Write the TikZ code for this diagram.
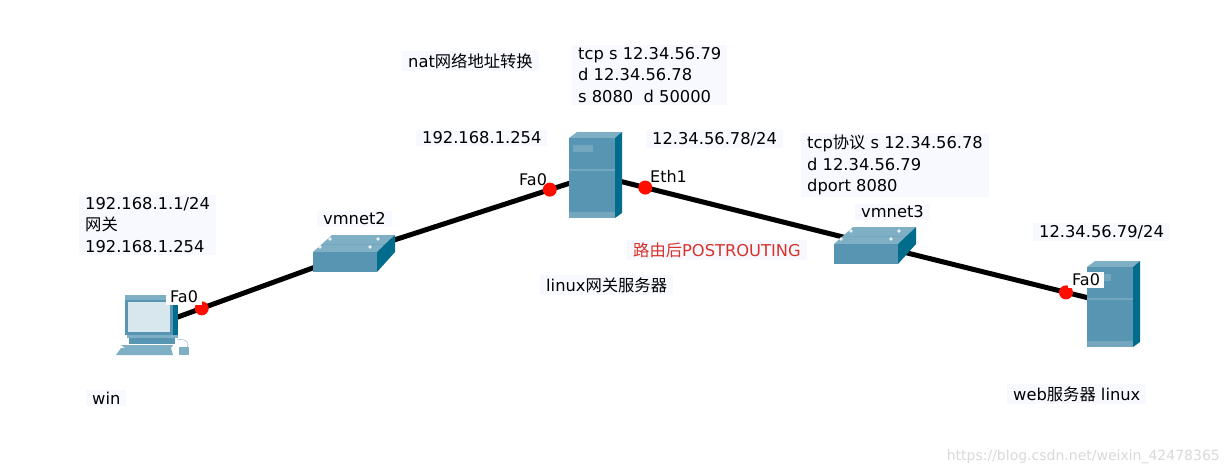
\documentclass[tikz,border=0pt]{standalone}
\usepackage{fontspec}
\setmainfont{DejaVu Sans}
\newfontfamily\cjk{Noto Sans CJK SC}
\definecolor{devfront}{HTML}{5795B2}
\definecolor{devside}{HTML}{016C8C}
\definecolor{devtop}{HTML}{7FAFC4}
\definecolor{devlight}{HTML}{74A6BE}
\definecolor{labelbg}{HTML}{F8F9FF}
\definecolor{postred}{HTML}{D8322A}
\tikzset{
    anchorpt/.style={inner sep=0pt, minimum size=0pt},
    link/.style={line width=5pt, black},
    portdot/.style={circle, fill=red!90!orange, inner sep=0pt, minimum size=14pt},
    lab/.style={anchor=west, fill=labelbg, inner xsep=6pt, inner ysep=2pt, align=left, font=\fontsize{16.3}{21.5}\selectfont},
    portlab/.style={anchor=west, fill=white, inner xsep=4pt, inner ysep=2pt, font=\fontsize{16}{19}\selectfont},
    serverpic/.pic={
        \fill[devtop] (-26,-37) -- (-18,-43) -- (27,-43) -- (20,-37) -- cycle;
        \fill[devside] (20,-37) -- (27,-43) -- (27,38) -- (20,43) -- cycle;
        \fill[devfront] (-26,-37) rectangle (20,43);
        \fill[devlight] (-22,-30) rectangle (-2,-23);
        \fill[devlight] (-26,-6) rectangle (20,-4);
        \fill[devlight] (-26,37) rectangle (20,43);
    },
    switchpic/.pic={
        \fill[devtop] (-41,-1) -- (-22,-18) -- (41,-18) -- (23,-1) -- cycle;
        \fill[devside] (23,-1) -- (41,-18) -- (41,-1) -- (23,19) -- cycle;
        \fill[devfront] (-41,-1) rectangle (23,19);
        \draw[devlight] (-30,-9) -- (30,-9);
        \foreach \dotx/\doty in {-24/-14, 24/-14, -34/-6, 16/-6}
            \fill[white!85!devtop] (\dotx,\doty) circle (1.8);
    },
    pcpic/.pic={
        % Monitor
        \fill[devfront] (-28,-31) rectangle (25,9);
        \fill[devside] (20,-24) rectangle (25,9);
        \fill[devtop] (-28,-31) rectangle (15,-26);
        \fill[white!70!devtop] (-25,-24) rectangle (17,6);
        % Base y teclado
        \fill[devtop] (-26,9) rectangle (25,12);
        \fill[devfront] (-24,12) rectangle (22,18);
        \fill[devtop] (-32,19) -- (-28,22) -- (18,22) -- (20,19) -- cycle;
        \fill[devtop] (-37,29) -- (-32,22) -- (18,22) -- (20,29) -- cycle;
        % Raton
        \draw[devtop] (24,14) .. controls (34,12) and (37,18) .. (34,21);
        \fill[devtop] (26,21) rectangle (36,29);
    },
}
\begin{document}
\begin{tikzpicture}[x=1pt, y=-1pt]
    \useasboundingbox[fill=white] (0, 0) rectangle (1229, 475);

    % Equipos
    \node[anchorpt] (win) at (153, 326) {};
    \node[anchorpt] (vmnet2) at (354, 253) {};
    \node[anchorpt] (gateway) at (595, 175) {};
    \node[anchorpt] (vmnet3) at (875, 245) {};
    \node[anchorpt] (web) at (1113, 304) {};

    % Enlaces
    \draw[link] (win) -- (vmnet2);
    \draw[link] (vmnet2) -- (gateway);
    \draw[link] (gateway) -- (vmnet3);
    \draw[link] (vmnet3) -- (web);

    % Puertos
    \path (win) -- node[portdot, pos=0.242] (winport) {} (vmnet2);
    \path (vmnet2) -- node[portdot, pos=0.813] (gwport0) {} (gateway);
    \path (gateway) -- node[portdot, pos=0.179] (gwport1) {} (vmnet3);
    \path (vmnet3) -- node[portdot, pos=0.803] (webport) {} (web);

    % Iconos
    \pic at (win) {pcpic};
    \pic at (vmnet2) {switchpic};
    \pic at (gateway) {serverpic};
    \pic at (vmnet3) {switchpic};
    \pic at (web) {serverpic};

    % Textos de la izquierda
    \node[lab] (winaddr) at (79, 225) {192.168.1.1/24\\{\cjk 网关}\\192.168.1.254};
    \node[portlab] (winfa) at (166, 297) {Fa0};
    \node[lab] (winname) at (86, 398) {win};
    \node[lab] (vmnet2name) at (317, 219) {vmnet2};

    % Textos del centro
    \node[lab] (natname) at (402, 61) {nat{\cjk 网络地址转换}};
    \node[lab] (replypkt) at (572, 75) {tcp s 12.34.56.79\\d 12.34.56.78\\s 8080\ \ d 50000};
    \node[lab] (gwaddr) at (416, 138) {192.168.1.254};
    \node[lab] (wanaddr) at (646, 139) {12.34.56.78/24};
    \node[portlab, fill=none] (gwfa) at (515, 180) {Fa0};
    \node[portlab, fill=none] (gweth) at (646, 176) {Eth1};
    \node[lab, text=postred] (postname) at (627, 250) {{\cjk 路由后}POSTROUTING};
    \node[lab] (gwname) at (540, 285) {linux{\cjk 网关服务器}};

    % Textos de la derecha
    \node[lab] (sendpkt) at (801, 165) {tcp{\cjk 协议} s 12.34.56.78\\d 12.34.56.79\\dport 8080};
    \node[lab] (vmnet3name) at (855, 212) {vmnet3};
    \node[lab] (webaddr) at (1033, 232) {12.34.56.79/24};
    \node[portlab] (webfa) at (1068, 280) {Fa0};
    \node[lab] (webname) at (1007, 394) {web{\cjk 服务器} linux};

    % Marca de agua
    \node[anchor=east, text=black!15, font=\fontsize{14}{18}\selectfont, inner sep=0pt] (mark) at (1220, 457) {https://blog.csdn.net/weixin\_42478365};
\end{tikzpicture}
\end{document}
